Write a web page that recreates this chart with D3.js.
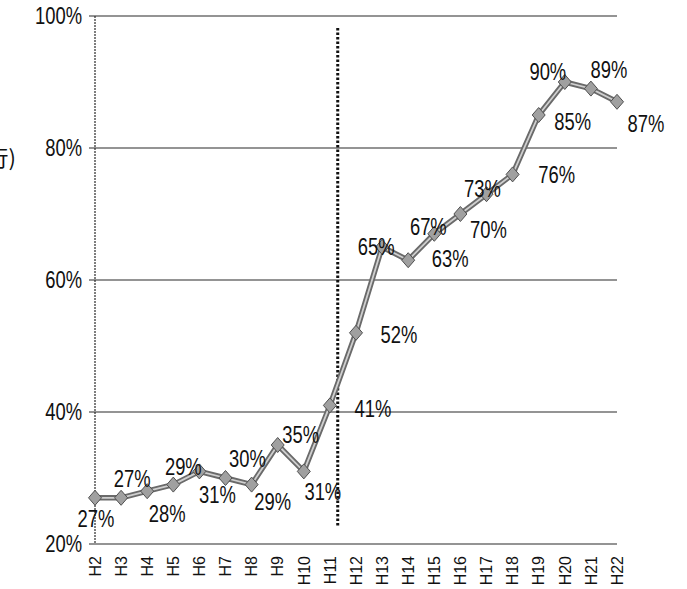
<!DOCTYPE html>
<html>
<head>
<meta charset="utf-8">
<script src="https://cdn.jsdelivr.net/npm/d3@7"></script>
<style>
  html, body { margin: 0; padding: 0; background: #fff; }
  svg { display: block; }
  text { font-family: "Liberation Sans", Arial, sans-serif; fill: #111; }
</style>
</head>
<body>
<svg id="chart" width="687" height="589"></svg>
<script>
// Fiscal years (Heisei) and yearly rate in percent
const years = ["H2","H3","H4","H5","H6","H7","H8","H9","H10","H11","H12",
               "H13","H14","H15","H16","H17","H18","H19","H20","H21","H22"];
const rates = [27, 27, 28, 29, 31, 30, 29, 35, 31, 41, 52,
               65, 63, 67, 70, 73, 76, 85, 90, 89, 87];
const yTicks = [20, 40, 60, 80, 100];
const dividerAt = 9.3; // dotted divider, in category steps from H2 (just after H11)

// Label placement relative to each point (px): [dx, dy]
const labelShift = [
  [1, 29], [11, -11], [20, 31], [10, -10], [18, 32], [22, -11], [21, 25],
  [23, -2], [19, 29], [43, 12], [43, 10], [-6, 8], [42, 7], [-6, 1],
  [28, 24], [-4, 3], [44, 9], [34, 15], [-17, -2], [18, -11], [29, 30]
];

const svg = d3.select("#chart");
const plotLeft = 95, plotRight = 617, plotTop = 16, plotBottom = 544;
const narrow = 0.8; // horizontal squeeze for the condensed-looking numerals

const x = d3.scalePoint().domain(years).range([plotLeft, plotRight]);
const y = d3.scaleLinear().domain([20, 100]).range([plotBottom, plotTop]);
const step = x.step();

// Partial axis title at the left edge
svg.append("text")
  .attr("x", 16).attr("y", 166)
  .attr("text-anchor", "end")
  .style("font-family", "'Noto Sans CJK JP', sans-serif")
  .style("font-size", "22px")
  .text("実行)");

// Horizontal gridlines with small left ticks
svg.append("g").selectAll("line")
  .data(yTicks)
  .join("line")
  .attr("x1", plotLeft - 6).attr("x2", plotRight)
  .attr("y1", d => y(d)).attr("y2", d => y(d))
  .attr("stroke", "#2a2a2a").attr("stroke-width", 1.2);

// Y axis line
svg.append("line")
  .attr("x1", plotLeft).attr("x2", plotLeft)
  .attr("y1", plotTop).attr("y2", plotBottom)
  .attr("stroke", "#2a2a2a").attr("stroke-width", 1.2)
  .attr("stroke-dasharray", "2,1");

// Y tick labels
svg.append("g").selectAll("text")
  .data(yTicks)
  .join("text")
  .attr("transform", d => `translate(${plotLeft - 13},${y(d) + 8}) scale(${narrow},1)`)
  .attr("text-anchor", "end")
  .style("font-size", "23px")
  .text(d => d + "%");

// X tick labels, rotated
svg.append("g").selectAll("text")
  .data(years)
  .join("text")
  .attr("transform", d => `translate(${x(d)},556) rotate(-90)`)
  .attr("dy", "0.36em")
  .attr("text-anchor", "end")
  .style("font-size", "16px")
  .text(d => d);

// Dotted divider
svg.append("line")
  .attr("x1", plotLeft + dividerAt * step).attr("x2", plotLeft + dividerAt * step)
  .attr("y1", 28).attr("y2", 527)
  .attr("stroke", "#111").attr("stroke-width", 3)
  .attr("stroke-dasharray", "2.5,2");

// Series line
const line = d3.line().x((d, i) => x(years[i])).y(d => y(d));
svg.append("path").datum(rates)
  .attr("d", line).attr("fill", "none")
  .attr("stroke", "#6a6a6a").attr("stroke-width", 5.5)
  .attr("stroke-linejoin", "round");
svg.append("path").datum(rates)
  .attr("d", line).attr("fill", "none")
  .attr("stroke", "#cfcfcf").attr("stroke-width", 1.8)
  .attr("stroke-linejoin", "round");

// Diamond markers
svg.append("g").selectAll("path")
  .data(rates)
  .join("path")
  .attr("transform", (d, i) => `translate(${x(years[i])},${y(d)})`)
  .attr("d", "M0,-7.5L6.5,0L0,7.5L-6.5,0Z")
  .attr("fill", "#a0a0a0").attr("stroke", "#505050").attr("stroke-width", 1);

// Value labels
svg.append("g").selectAll("text")
  .data(rates)
  .join("text")
  .attr("transform", (d, i) =>
    `translate(${x(years[i]) + labelShift[i][0]},${y(d) + labelShift[i][1]}) scale(${narrow},1)`)
  .attr("text-anchor", "middle")
  .style("font-size", "23px")
  .text(d => d + "%");
</script>
</body>
</html>
